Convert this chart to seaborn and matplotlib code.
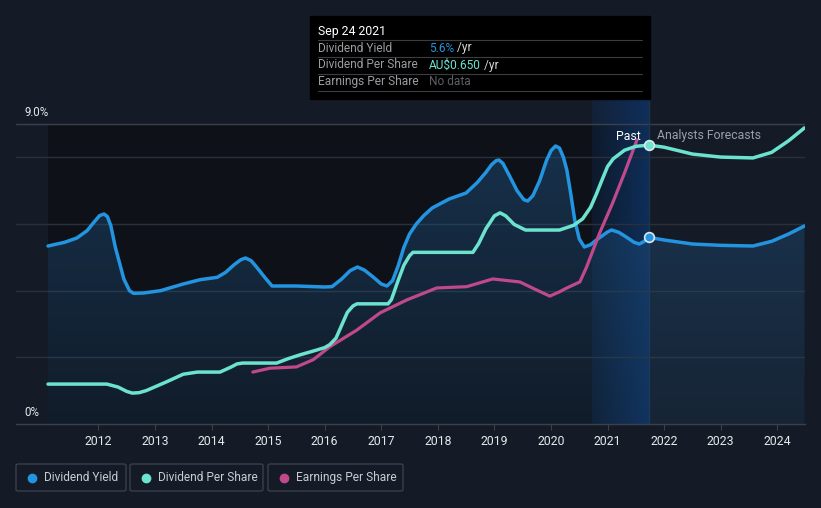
import numpy as np
import pandas as pd
import seaborn as sns
from matplotlib import pyplot as plt
from matplotlib.patches import Rectangle, FancyBboxPatch

# data (decimal years)
yield_years = [2011.11, 2011.4, 2011.62, 2011.8, 2011.92, 2012.02, 2012.1, 2012.16, 2012.22, 2012.3,
               2012.45, 2012.55, 2012.62, 2012.8, 2013.1, 2013.5, 2013.8, 2014.1, 2014.25, 2014.4,
               2014.52, 2014.6, 2014.7, 2014.8, 2014.95, 2015.07, 2015.5, 2016.0, 2016.13, 2016.3,
               2016.45, 2016.58, 2016.7, 2016.85, 2017.0, 2017.1, 2017.2, 2017.3, 2017.4, 2017.5,
               2017.62, 2017.75, 2017.9, 2018.2, 2018.5, 2018.7, 2018.85, 2018.95, 2019.03, 2019.08,
               2019.15, 2019.25, 2019.4, 2019.52, 2019.59, 2019.68, 2019.8, 2019.92, 2020.0, 2020.08,
               2020.15, 2020.22, 2020.28, 2020.35, 2020.42, 2020.5, 2020.59, 2020.7, 2020.85, 2021.0,
               2021.07, 2021.2, 2021.33, 2021.47, 2021.56, 2021.64, 2021.73,
               2022.0, 2022.5, 2023.0, 2023.57, 2023.9, 2024.2, 2024.48]
yield_vals = [5.34, 5.45, 5.58, 5.8, 6.05, 6.25, 6.3, 6.22, 5.95, 5.3,
              4.35, 4.0, 3.92, 3.93, 4.0, 4.2, 4.33, 4.4, 4.55, 4.78,
              4.93, 4.98, 4.9, 4.7, 4.38, 4.14, 4.14, 4.11, 4.12, 4.35,
              4.6, 4.71, 4.62, 4.42, 4.2, 4.14, 4.3, 4.75, 5.3, 5.7,
              6.0, 6.25, 6.48, 6.75, 6.93, 7.25, 7.55, 7.78, 7.9, 7.92,
              7.82, 7.5, 7.0, 6.73, 6.69, 6.85, 7.3, 7.9, 8.2, 8.34,
              8.28, 8.0, 7.62, 6.9, 6.12, 5.55, 5.31, 5.38, 5.58, 5.76,
              5.82, 5.75, 5.61, 5.45, 5.4, 5.47, 5.6,
              5.52, 5.4, 5.36, 5.34, 5.48, 5.7, 5.94]

dps_years = [2011.11, 2012.15, 2012.35, 2012.5, 2012.6, 2012.72, 2012.85, 2013.2, 2013.5, 2013.75,
             2014.15, 2014.35, 2014.45, 2014.55, 2015.15, 2015.35, 2015.56, 2015.85, 2016.0, 2016.09,
             2016.2, 2016.3, 2016.4, 2016.5, 2016.57, 2017.12, 2017.18, 2017.3, 2017.4, 2017.5,
             2017.56, 2018.62, 2018.72, 2018.85, 2019.0, 2019.1, 2019.2, 2019.35, 2019.55, 2020.15,
             2020.4, 2020.56, 2020.7, 2020.8, 2020.9, 2021.0, 2021.1, 2021.3, 2021.5, 2021.73,
             2022.0, 2022.5, 2023.0, 2023.57, 2023.9, 2024.2, 2024.48]
dps_vals = [0.093, 0.093, 0.086, 0.076, 0.072, 0.073, 0.078, 0.098, 0.116, 0.121,
            0.121, 0.133, 0.14, 0.142, 0.142, 0.152, 0.161, 0.172, 0.178, 0.185,
            0.2, 0.23, 0.26, 0.275, 0.28, 0.28, 0.29, 0.335, 0.37, 0.392,
            0.40, 0.40, 0.42, 0.455, 0.485, 0.492, 0.485, 0.465, 0.452, 0.452,
            0.463, 0.478, 0.505, 0.535, 0.568, 0.60, 0.618, 0.638, 0.647, 0.65,
            0.645, 0.629, 0.622, 0.62, 0.633, 0.66, 0.69]

eps_years = [2014.73, 2015.03, 2015.5, 2015.8, 2016.09, 2016.57, 2016.98, 2017.45, 2017.98, 2018.51,
             2018.97, 2019.45, 2019.75, 2019.98, 2020.15, 2020.28, 2020.51, 2020.63, 2020.86, 2021.09,
             2021.3, 2021.52]
eps_vals = [0.121, 0.13, 0.133, 0.15, 0.18, 0.219, 0.259, 0.289, 0.317, 0.32,
            0.338, 0.331, 0.312, 0.298, 0.308, 0.317, 0.331, 0.366, 0.445, 0.515,
            0.585, 0.662]

year_ticks = list(range(2012, 2025))
now = 2021.73

BG = '#151b26'
BLUE = '#2394df'
TEAL = '#6ce3cf'
PINK = '#c0498c'

dy = pd.DataFrame({'year': yield_years, 'value': yield_vals})
dps = pd.DataFrame({'year': dps_years, 'value': dps_vals})
eps = pd.DataFrame({'year': eps_years, 'value': eps_vals})

sns.set_style('dark')
plt.rcParams['font.family'] = ['Roboto', 'DejaVu Sans']

fig = plt.figure(figsize=(8.21, 5.08), dpi=100, facecolor=BG)
W, H = 821, 508
ax = fig.add_axes([16 / W, 1 - 424 / H, (805 - 16) / W, (424 - 100) / H])
ax.set_facecolor(BG)
xmin, xmax = 2010.544, 2024.49
ymax = 9.72
ax.set_xlim(xmin, xmax)
ax.set_ylim(0, ymax)

# past region darker
ax.add_patch(Rectangle((yield_years[0], 0), now - yield_years[0], 9, color='#0e1118', zorder=0, lw=0))
# highlighted last year
grad = np.zeros((2, 100, 4))
grad[:, :, :3] = np.array([14, 52, 102]) / 255
grad[:, :, 3] = np.linspace(0.25, 0.85, 100)
ax.imshow(grad, extent=[now - 1.01, now, 0, ymax], aspect='auto', zorder=0.5, interpolation='bilinear')

# gridlines
for g in [2, 4, 6, 8]:
    ax.axhline(g, color='#2a303a', lw=1, zorder=1)
ax.axhline(9, color='#3b404a', lw=1, zorder=1)
ax.axvline(now, color='#1d3350', lw=1, zorder=1)

# gradient fill under dividend yield
poly = ax.fill_between(dy['year'], dy['value'], 0, color='none', lw=0)
fill = np.zeros((100, 2, 4))
fill[:, :, :3] = np.array([31, 80, 125]) / 255
fill[:, :, 3] = np.linspace(0.55, 0.18, 100)[:, None]
im = ax.imshow(fill, extent=[xmin, xmax, 0, ymax], aspect='auto', zorder=1.5, origin='upper')
im.set_clip_path(poly.get_paths()[0], transform=ax.transData)

ax2 = ax.twinx()
ax2.set_ylim(0, 0.755)
ax2.set_xlim(xmin, xmax)
ax2.axis('off')

line_kw = dict(solid_joinstyle='round', solid_capstyle='round')
sns.lineplot(data=eps, x='year', y='value', ax=ax2, color=PINK, lw=2.3, zorder=3, **line_kw)
sns.lineplot(data=dps, x='year', y='value', ax=ax2, color=TEAL, lw=2.5, zorder=4, **line_kw)
sns.lineplot(data=dy, x='year', y='value', ax=ax, color=BLUE, lw=2.5, zorder=4, **line_kw)
ax.set_zorder(1)
ax2.set_zorder(2)
ax2.patch.set_visible(False)

ax.plot([now], [yield_vals[yield_years.index(now)]], 'o', ms=7, mfc=BLUE, mec='#dfe6ee', mew=1.2, zorder=6)
ax2.plot([now], [dps_vals[dps_years.index(now)]], 'o', ms=7, mfc=TEAL, mec='#dfe6ee', mew=1.2, zorder=6)

# axes styling
for s in ['top', 'right', 'left']:
    ax.spines[s].set_visible(False)
ax.spines['bottom'].set_color('#3b404a')
ax.spines['bottom'].set_linewidth(1)
ax.set_xticks(year_ticks)
ax.set_xticklabels([str(y) for y in year_ticks], color='#e6e8eb', fontsize=8.8)
ax.tick_params(axis='x', length=4, color='#3b404a', pad=4, bottom=True)
ax.set_yticks([])
ax.set_xlabel('')
ax.set_ylabel('')
ax.grid(False)

def px(x, y):
    return x / W, 1 - y / H

fig.text(*px(24, 112), '9.0%', color='#e6e8eb', fontsize=8.3, va='center')
fig.text(*px(24, 412), '0%', color='#e6e8eb', fontsize=8.3, va='center')
fig.text(*px(641, 136), 'Past', color='#ffffff', fontsize=8.8, va='center', ha='right')
fig.text(*px(657, 136), 'Analysts Forecasts', color='#9ba0a8', fontsize=8.8, va='center')

# tooltip
fig.patches.append(Rectangle(px(310, 99), 340 / W, 83 / H, transform=fig.transFigure,
                             color='#000000', zorder=10))
for ly in [40, 57, 74, 91]:
    fig.add_artist(plt.Line2D([318 / W, 642 / W], [1 - ly / H] * 2, color='#3a3d42', lw=0.8, zorder=11))
fig.text(*px(318, 31), 'Sep 24 2021', color='#ffffff', fontsize=8.8, va='center', zorder=12)
rows = [('Dividend Yield', '5.6%', BLUE, ' /yr'),
        ('Dividend Per Share', 'AU$0.650', TEAL, ' /yr'),
        ('Earnings Per Share', 'No data', '#5d6066', '')]
for i, (lab, val, col, suf) in enumerate(rows):
    yy = 48 + i * 17
    fig.text(*px(318, yy), lab, color='#9a9ca0', fontsize=8.6, va='center', zorder=12)
    t = fig.text(*px(429, yy), val, color=col, fontsize=8.6, va='center', zorder=12)
    if suf:
        fig.canvas.draw()
        bb = t.get_window_extent()
        fig.text(bb.x1 / W, 1 - yy / H, suf, color='#d8dadd', fontsize=8.6, va='center', zorder=12)

# legend boxes
legend = [('Dividend Yield', BLUE, 16, 126), ('Dividend Per Share', TEAL, 130, 263),
          ('Earnings Per Share', PINK, 268, 403)]
for lab, col, x0, x1 in legend:
    fig.patches.append(FancyBboxPatch(px(x0, 491), (x1 - x0) / W, 27 / H, transform=fig.transFigure,
                                      boxstyle='round,pad=0,rounding_size=0.003', fc='none',
                                      ec='#3a3f4a', lw=1))
    fig.add_artist(plt.Line2D([(x0 + 16) / W], [1 - 477.5 / H], marker='o', ms=6, color=col, lw=0))
    fig.text(*px(x0 + 28, 477.5), lab, color='#c8ccd2', fontsize=8.6, va='center')

fig.savefig('out.png', dpi=100, facecolor=BG)
